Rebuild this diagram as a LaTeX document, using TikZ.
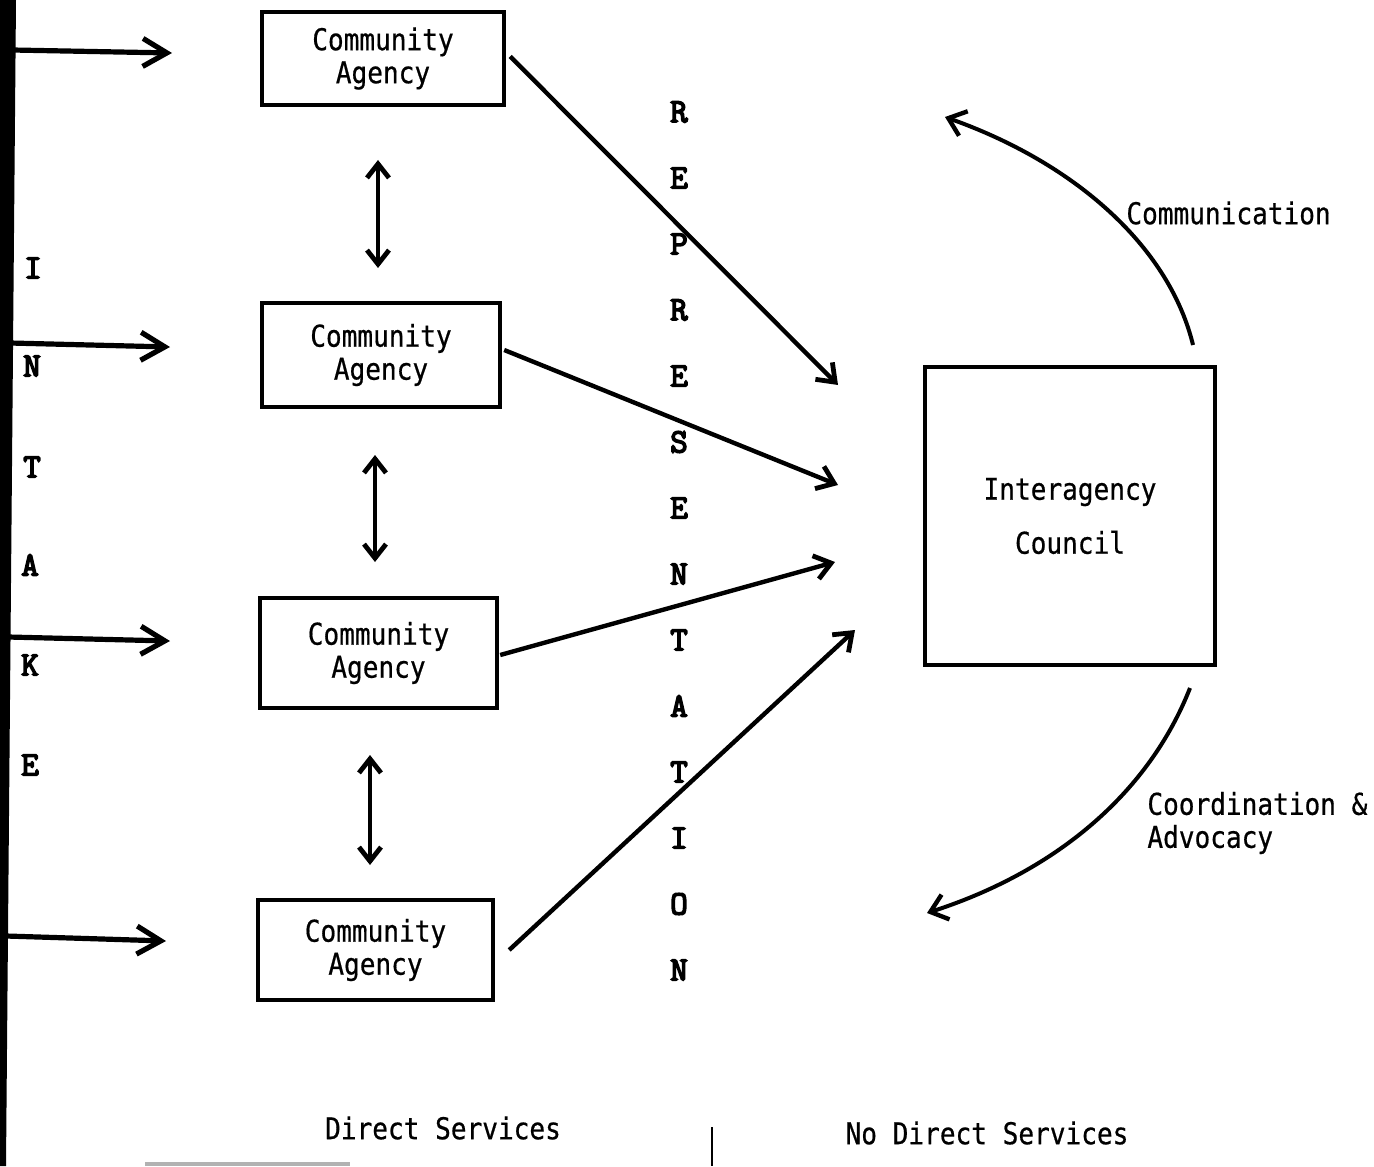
\documentclass[tikz,border=0pt]{standalone}
\usepackage{fontspec}
\usetikzlibrary{arrows.meta,calc}
\newfontfamily\typer[FakeStretch=0.87,FakeBold=0.6]{DejaVu Sans Mono}
\newfontfamily\slab[FakeBold=4.5]{Latin Modern Mono}

\tikzset{
  agency/.style={draw, line width=2.2pt, inner sep=0pt, align=center,
    font=\typer\fontsize{15pt}{16.5pt}\selectfont},
  council/.style={draw, line width=2.2pt, inner sep=0pt, align=center,
    minimum width=145pt, minimum height=149pt,
    font=\typer\fontsize{15pt}{27pt}\selectfont},
  label/.style={font=\typer\fontsize{15pt}{16.5pt}\selectfont, inner sep=0pt},
  spell/.style={font=\slab\fontsize{17pt}{17pt}\selectfont, inner sep=0pt},
  intake/.style={line width=2.6pt, -{Straight Barb[length=12pt,width=14pt,line width=2.6pt]}},
  rep/.style={line width=2.2pt, -{Straight Barb[length=8pt,width=12pt,line width=2.4pt]}},
  link/.style={line width=2.2pt, {Straight Barb[length=7pt,width=11pt,line width=2.4pt]}-{Straight Barb[length=7pt,width=11pt,line width=2.4pt]}},
  loop/.style={line width=2pt, -{Straight Barb[length=8pt,width=13pt,line width=2.2pt]}},
}

\begin{document}
\begin{tikzpicture}[x=0.5pt, y=-0.5pt]
  \useasboundingbox (0,0) rectangle (1374,1166);

  % intake bar on the left edge
  \fill (0,0) -- (16,0) -- (6,1166) -- (0,1166) -- cycle;

  % community agencies
  \node[agency, minimum width=121pt, minimum height=46.5pt] (a1) at (383,58.5) {Community\\Agency};
  \node[agency, minimum width=119pt, minimum height=52pt] (a2) at (381,355) {Community\\Agency};
  \node[agency, minimum width=118.5pt, minimum height=55pt] (a3) at (378.5,653) {Community\\Agency};
  \node[agency, minimum width=117.5pt, minimum height=50pt] (a4) at (375.5,950) {Community\\Agency};

  % interagency council
  \node[council] (ic) at (1070,516) {Interagency\\Council};

  % intake arrows
  \coordinate (i1s) at (12,50);  \coordinate (i1e) at (172,53);
  \coordinate (i2s) at (10,343); \coordinate (i2e) at (170,347);
  \coordinate (i3s) at (8,637);  \coordinate (i3e) at (170,641);
  \coordinate (i4s) at (6,936);  \coordinate (i4e) at (166,941);
  \draw[intake] (i1s) -- (i1e);
  \draw[intake] (i2s) -- (i2e);
  \draw[intake] (i3s) -- (i3e);
  \draw[intake] (i4s) -- (i4e);

  % INTAKE spelled down the left
  \node[spell] (l1) at (33,268) {I};
  \node[spell] (l2) at (32,366) {N};
  \node[spell] (l3) at (32,467) {T};
  \node[spell] (l4) at (30,565) {A};
  \node[spell] (l5) at (30,665) {K};
  \node[spell] (l6) at (30,765) {E};

  % links between neighbouring agencies
  \coordinate (v1a) at (378,160); \coordinate (v1b) at (378,268);
  \coordinate (v2a) at (375,455); \coordinate (v2b) at (375,562);
  \coordinate (v3a) at (370,755); \coordinate (v3b) at (370,865);
  \draw[link] (v1a) -- (v1b);
  \draw[link] (v2a) -- (v2b);
  \draw[link] (v3a) -- (v3b);

  % REPRESENTATION spelled down the middle
  \foreach \ch [count=\k from 0] in {R,E,P,R,E,S,E,N,T,A,T,I,O,N} {
    \node[spell] (r\k) at (679,112+66*\k) {\ch};
  }

  % representation arrows towards the council
  \coordinate (e1) at (838,385);
  \coordinate (e2) at (838,485);
  \coordinate (e3) at (835,562);
  \coordinate (e4) at (855,630);
  \draw[rep] ($(a1.east)+(4,-2)$) -- (e1);
  \draw[rep] ($(a2.east)+(2,-5)$) -- (e2);
  \draw[rep] ($(a3.east)+(1,2)$) -- (e3);
  \draw[rep] ($(a4.east)+(14,0)$) -- (e4);

  % communication and coordination loops
  \coordinate (c1s) at (1193,345); \coordinate (c1e) at (945,117);
  \coordinate (c2s) at (1190,688); \coordinate (c2e) at (927,913);
  \draw[loop] (c1s) .. controls (1170,250) and (1080,165) .. (c1e);
  \draw[loop] (c2s) .. controls (1150,790) and (1060,870) .. (c2e);
  \node[label, anchor=west] (comm) at (1126,213) {Communication};
  \node[label, anchor=west, align=left] (coord) at (1147,823) {Coordination \&\\Advocacy};

  % service captions
  \node[label] (ds) at (443,1128) {Direct Services};
  \node[label] (nds) at (987,1133) {No Direct Services};
  \coordinate (t1) at (712,1127); \coordinate (t2) at (712,1166);
  \draw[line width=1.3pt] (t1) -- (t2);
  \coordinate (g1) at (145,1164); \coordinate (g2) at (350,1164);
  \draw[line width=2pt, gray!60] (g1) -- (g2);
\end{tikzpicture}
\end{document}
